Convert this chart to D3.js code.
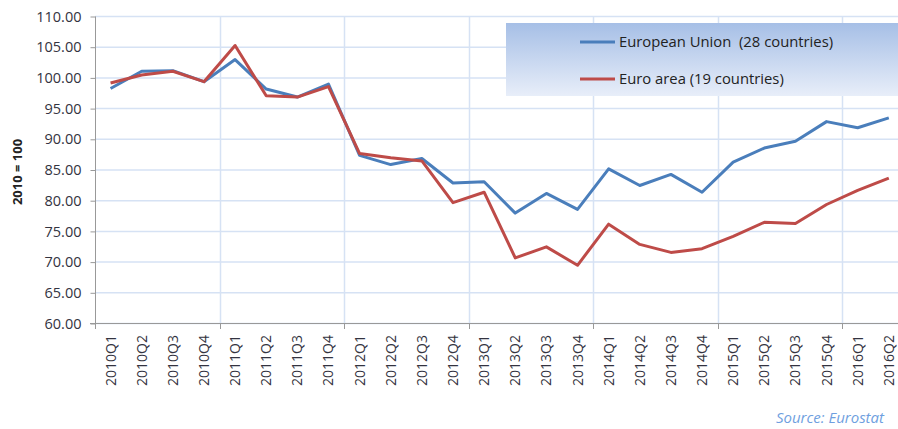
<!DOCTYPE html>
<html lang="en">
    <head>
        <meta charset="utf-8">
        <title>EU vs Euro area index, 2010 = 100</title>
        <script src="https://cdn.jsdelivr.net/npm/d3@7"></script>
        <style>
            body { margin: 0; background: #fff; }
            text { font-family: "Open Sans", "Noto Sans", sans-serif; }
        </style>
    </head>
    <body>
        <script type="text/javascript">

            // Width and height
            var w = 898;
            var h = 429;

            // the data
            var quarters = ["2010Q1","2010Q2","2010Q3","2010Q4","2011Q1","2011Q2","2011Q3","2011Q4",
                            "2012Q1","2012Q2","2012Q3","2012Q4","2013Q1","2013Q2","2013Q3","2013Q4",
                            "2014Q1","2014Q2","2014Q3","2014Q4","2015Q1","2015Q2","2015Q3","2015Q4",
                            "2016Q1","2016Q2"];
            var euValues = [98.2, 101.0, 101.1, 99.3, 102.9, 98.1, 96.8, 98.9,
                            87.3, 85.8, 86.8, 82.8, 83.0, 77.9, 81.1, 78.5,
                            85.1, 82.4, 84.2, 81.3, 86.2, 88.5, 89.6, 92.8,
                            91.8, 93.4];
            var eaValues = [99.1, 100.4, 101.0, 99.3, 105.2, 97.0, 96.8, 98.5,
                            87.6, 86.9, 86.4, 79.6, 81.3, 70.6, 72.4, 69.4,
                            76.1, 72.8, 71.5, 72.1, 74.1, 76.4, 76.2, 79.3,
                            81.6, 83.6];
            var yTicks = [60, 65, 70, 75, 80, 85, 90, 95, 100, 105, 110];
            var seriesNames = ["European Union  (28 countries)", "Euro area (19 countries)"];
            var seriesColors = ["#4a7ebb", "#be4b48"];

            // plot area (the right edge runs past the picture, as in the original)
            var plotLeft = 95, plotTop = 16, plotBottom = 323;
            var plotRight = plotLeft + quarters.length * 31.13;

            var x = d3.scaleBand().domain(quarters).range([plotLeft, plotRight]);
            var y = d3.scaleLinear().domain([60, 110]).range([plotBottom, plotTop]);

            var svg = d3.select("body")
                .append("svg")
                .attr("width", w)
                .attr("height", h);

            // horizontal gridlines
            svg.append("g")
                .selectAll("line")
                .data(yTicks)
                .enter()
                .append("line")
                .attr("x1", plotLeft)
                .attr("x2", plotRight)
                .attr("y1", function(d) { return y(d) + 0.5; })
                .attr("y2", function(d) { return y(d) + 0.5; })
                .attr("stroke", "#d6e2f4")
                .attr("stroke-width", 1.5);

            // vertical gridlines, one per year
            var yearStarts = quarters.filter(function(q, i) { return i > 0 && q.slice(4) == "Q1"; });
            svg.append("g")
                .selectAll("line")
                .data(yearStarts)
                .enter()
                .append("line")
                .attr("x1", function(d) { return Math.round(x(d)) + 0.5; })
                .attr("x2", function(d) { return Math.round(x(d)) + 0.5; })
                .attr("y1", plotTop)
                .attr("y2", plotBottom)
                .attr("stroke", "#d6e2f4")
                .attr("stroke-width", 1.5);

            // year ticks below the axis
            svg.append("g")
                .selectAll("line")
                .data(yearStarts)
                .enter()
                .append("line")
                .attr("x1", function(d) { return Math.round(x(d)) + 0.5; })
                .attr("x2", function(d) { return Math.round(x(d)) + 0.5; })
                .attr("y1", plotBottom)
                .attr("y2", plotBottom + 6)
                .attr("stroke", "#999");

            // y axis
            var yAxis = d3.axisLeft(y)
                .tickValues(yTicks)
                .tickSize(5)
                .tickFormat(d3.format(".2f"));

            var gy = svg.append("g")
                .attr("transform", "translate(" + (plotLeft + 0.5) + ",0.5)")
                .call(yAxis);
            gy.selectAll("line, path").attr("stroke", "#999");
            gy.select(".domain").attr("d", "M0," + plotTop + "V" + plotBottom);
            gy.selectAll("text")
                .attr("x", -14)
                .attr("fill", "#333340")
                .style("font-size", "14.5px")
                .style("font-family", "'Open Sans', sans-serif");

            // x axis line
            svg.append("line")
                .attr("x1", plotLeft - 5)
                .attr("x2", plotRight)
                .attr("y1", plotBottom + 0.5)
                .attr("y2", plotBottom + 0.5)
                .attr("stroke", "#999");
            svg.append("line")
                .attr("x1", plotLeft + 0.5)
                .attr("x2", plotLeft + 0.5)
                .attr("y1", plotBottom)
                .attr("y2", plotBottom + 6)
                .attr("stroke", "#999");

            // quarter labels, turned on their side
            svg.append("g")
                .selectAll("text")
                .data(quarters)
                .enter()
                .append("text")
                .attr("transform", function(d) {
                    return "translate(" + (x(d) + x.bandwidth() / 2 + 5) + "," + (plotBottom + 12) + ") rotate(-90)";
                })
                .attr("text-anchor", "end")
                .attr("fill", "#333340")
                .style("font-size", "14px")
                .text(function(d) { return d; });

            // y axis title
            svg.append("text")
                .attr("transform", "translate(22,172) rotate(-90)")
                .attr("text-anchor", "middle")
                .attr("fill", "#222")
                .style("font-size", "13px")
                .style("font-weight", "bold")
                .text("2010 = 100");

            // legend box with its gradient
            var grad = svg.append("defs")
                .append("linearGradient")
                .attr("id", "legendFill")
                .attr("x1", 0).attr("y1", 0)
                .attr("x2", 0).attr("y2", 1);
            grad.append("stop").attr("offset", "0%").attr("stop-color", "#a6bfe6");
            grad.append("stop").attr("offset", "100%").attr("stop-color", "#e8eef9");

            svg.append("rect")
                .attr("x", 506)
                .attr("y", 23)
                .attr("width", 400)
                .attr("height", 73)
                .attr("fill", "url(#legendFill)");

            var legend = svg.append("g")
                .selectAll("g")
                .data(seriesNames)
                .enter()
                .append("g")
                .attr("transform", function(d, i) { return "translate(580," + (42 + i * 37) + ")"; });

            legend.append("line")
                .attr("x1", 0)
                .attr("x2", 35)
                .attr("stroke", function(d, i) { return seriesColors[i]; })
                .attr("stroke-width", 3);

            legend.append("text")
                .attr("x", 39)
                .attr("dy", "0.35em")
                .attr("fill", "#222")
                .style("font-size", "14.8px")
                .style("white-space", "pre")
                .text(function(d) { return d; });

            // the two lines
            var line = d3.line()
                .x(function(d, i) { return x(quarters[i]) + x.bandwidth() / 2; })
                .y(function(d) { return y(d); });

            svg.append("g")
                .selectAll("path")
                .data([euValues, eaValues])
                .enter()
                .append("path")
                .attr("fill", "none")
                .attr("stroke", function(d, i) { return seriesColors[i]; })
                .attr("stroke-width", 3)
                .attr("stroke-linejoin", "round")
                .attr("d", line);

            // source note
            svg.append("text")
                .attr("x", 884)
                .attr("y", 423)
                .attr("text-anchor", "end")
                .attr("fill", "#6f9fe0")
                .style("font-size", "15px")
                .style("font-style", "italic")
                .text("Source: Eurostat");

        </script>
    </body>
</html>
